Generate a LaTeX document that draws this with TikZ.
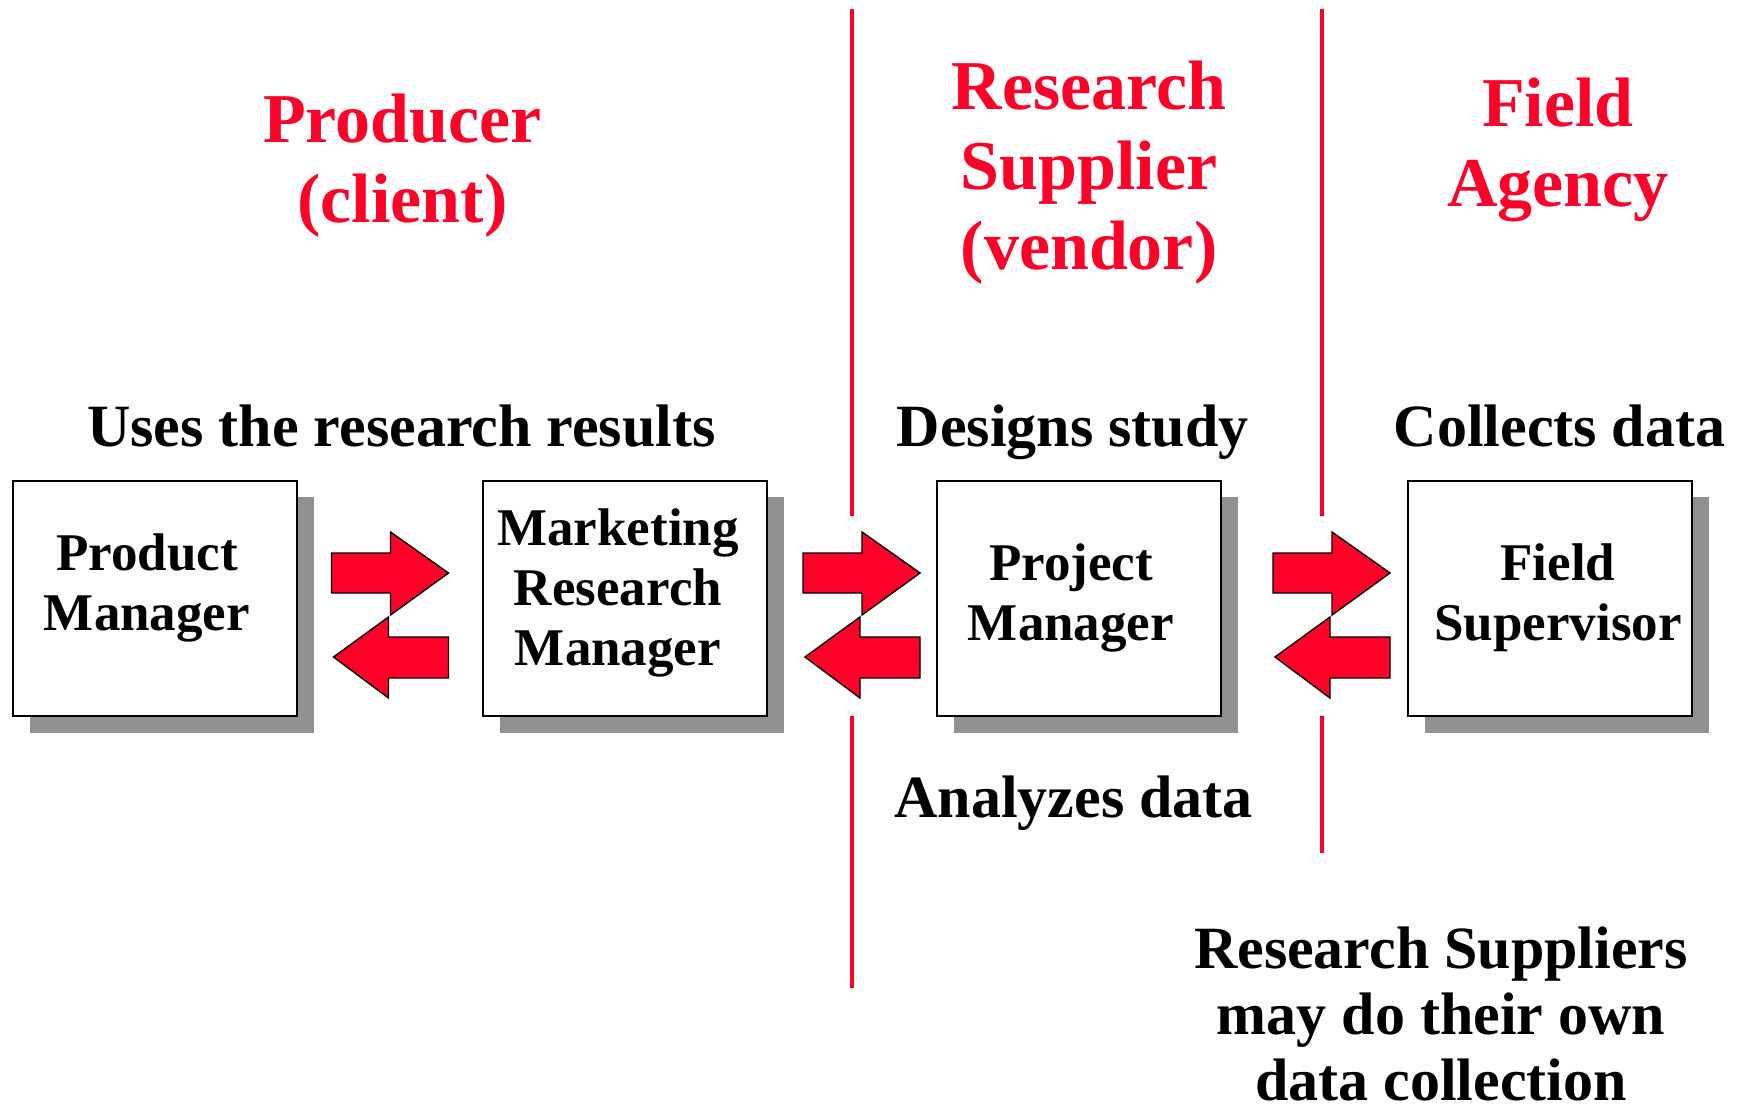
\documentclass[tikz,border=0pt]{standalone}
\usepackage{fontspec}
\setmainfont{Liberation Serif}
\begin{document}
\definecolor{vred}{RGB}{255,0,40}
\definecolor{shadowgray}{RGB}{145,145,145}
\begin{tikzpicture}[x=1pt,y=-1pt,
  title/.style={inner sep=0pt,anchor=base,text=vred,font=\fontsize{70}{80}\selectfont\bfseries},
  label/.style={inner sep=0pt,anchor=base,font=\fontsize{60}{66}\selectfont\bfseries},
  boxtext/.style={inner sep=0pt,anchor=base,font=\fontsize{53}{60}\selectfont\bfseries},
  rolebox/.style={draw=black,line width=2pt,fill=white},
  dropshadow/.style={fill=shadowgray},
  divider/.style={draw=vred,line width=3.5pt},
  flowarrow/.style={fill=vred,draw=black,line width=1.4pt,line join=miter}]
\useasboundingbox (0,0) rectangle (1741,1110);

% column headings
\node[title] (producer) at (402.5,142.7) {\begin{tabular}[t]{@{}c@{}}Producer\\(client)\end{tabular}};
\node[title] (supplier) at (1089,109.3) {\begin{tabular}[t]{@{}c@{}}Research\\Supplier\\(vendor)\end{tabular}};
\node[title] (agency) at (1558,126.7) {\begin{tabular}[t]{@{}c@{}}Field\\Agency\end{tabular}};

% column dividers
\coordinate (d1top) at (852,9);   \coordinate (d1mid) at (852,516);
\coordinate (d1low) at (852,716); \coordinate (d1end) at (852,988);
\coordinate (d2top) at (1322,9);   \coordinate (d2mid) at (1322,516);
\coordinate (d2low) at (1322,716); \coordinate (d2end) at (1322,853);
\draw[divider] (d1top) -- (d1mid) (d1low) -- (d1end);
\draw[divider] (d2top) -- (d2mid) (d2low) -- (d2end);

% role descriptions
\node[label] (uses) at (401.4,446.7) {Uses the research results};
\node[label] (designs) at (1072.6,446.7) {Designs study};
\node[label] (collects) at (1559.5,446.7) {Collects data};
\node[label] (analyzes) at (1073.7,817.3) {Analyzes data};
\node[label] (note) at (1441,968.3) {\begin{tabular}[t]{@{}c@{}}Research Suppliers\\may do their own\\data collection\end{tabular}};

% role boxes with drop shadows
\foreach \bx/\nm in {13/pm,483/mrm,937/prj,1408/fs}{
  \fill[dropshadow] (\bx+17,497) rectangle (\bx+301,733);
  \draw[rolebox] (\bx,481) rectangle (\bx+284,716);
}
\node[boxtext] (pmtext) at (147,570) {\begin{tabular}[t]{@{}c@{}}Product\\Manager\end{tabular}};
\node[boxtext] (mrmtext) at (618,545.5) {\begin{tabular}[t]{@{}c@{}}Marketing\\Research\\Manager\end{tabular}};
\node[boxtext] (prjtext) at (1071,580.5) {\begin{tabular}[t]{@{}c@{}}Project\\Manager\end{tabular}};
\node[boxtext] (fstext) at (1558,580.5) {\begin{tabular}[t]{@{}c@{}}Field\\Supervisor\end{tabular}};

% two-way exchange arrows between neighbouring roles
\foreach \ax in {331.5,803,1273}{
  \draw[flowarrow] (\ax,553) -- (\ax+59,553) -- (\ax+59,532) -- (\ax+117,573)
    -- (\ax+59,615) -- (\ax+59,593) -- (\ax,593) -- cycle;
  \draw[flowarrow] (\ax+2,657) -- (\ax+57,617) -- (\ax+57,637) -- (\ax+117,637)
    -- (\ax+117,678) -- (\ax+57,678) -- (\ax+57,698) -- cycle;
}
\end{tikzpicture}
\end{document}
